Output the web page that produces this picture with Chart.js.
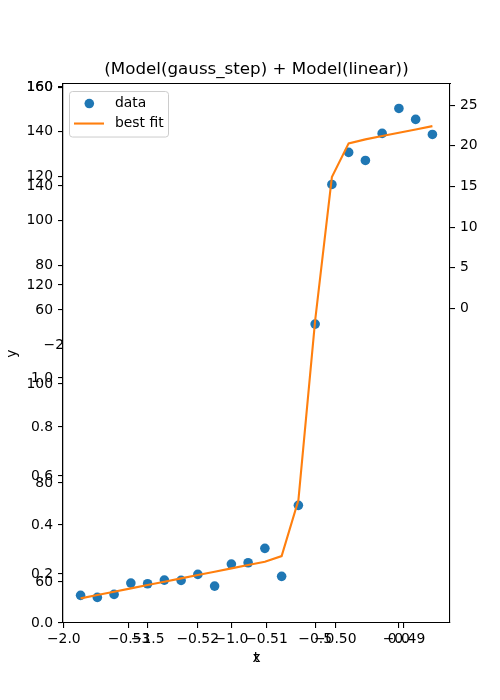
<!DOCTYPE html>
<html>
<head>
<meta charset="utf-8">
<script src="https://cdn.jsdelivr.net/npm/chart.js@4.4.1/dist/chart.umd.min.js"></script>
<style>
  html, body { margin: 0; padding: 0; background: #fff; }
  canvas { display: block; }
</style>
</head>
<body>
<canvas id="fitChart" width="500" height="700"></canvas>
<script>
// -------- DATA --------
const xValues = [-1.9, -1.8, -1.7, -1.6, -1.5, -1.4, -1.3, -1.2, -1.1, -1.0, -0.9,
                 -0.8, -0.7, -0.6, -0.5, -0.4, -0.3, -0.2, -0.1, 0.0, 0.1, 0.2];
const dataValues = [-35.30, -35.55, -35.18, -33.79, -33.87, -33.42, -33.46, -32.72, -34.16, -31.45, -31.29,
                    -29.52, -32.96, -24.23, -1.93, 15.25, 19.19, 18.20, 21.53, 24.60, 23.25, 21.40];
const fitValues = [-35.67, -35.26, -34.85, -34.44, -34.03, -33.62, -33.21, -32.80, -32.39, -31.98, -31.57,
                   -31.16, -30.47, -23.60, -1.50, 16.15, 20.30, 20.79, 21.20, 21.61, 22.01, 22.42];

// tick labels of the (overlapping) axes
const xTicks = [-2.0, -1.5, -1.0, -0.5, 0.0];
const xTicks2 = [-0.53, -0.52, -0.51, -0.50, -0.49];
const yTicksRight = [0, 5, 10, 15, 20, 25];
const yTicksUnit = [0.0, 0.2, 0.4, 0.6, 0.8, 1.0];
const yTicksB = [60, 80, 100, 120, 140, 160];
const yTicksC = [60, 80, 100, 120, 140, 160];
const yTicksCut = [-20];

// -------- HELPERS --------
const FONT = "DejaVu Sans";
const tickFont = { family: FONT, size: 13.9 };

function fmt(v, d) {
  const s = Math.abs(v).toFixed(d);
  return (v < 0 ? "\u2212" : "") + s;
}

function setTicks(list) {
  return (scale) => { scale.ticks = list.map((v) => ({ value: v })); };
}

function noPad(scale) {
  scale.paddingTop = 0;
  scale.paddingBottom = 0;
  scale.paddingLeft = 0;
  scale.paddingRight = 0;
}
function fixWidth(w) {
  return (scale) => { scale.width = w; noPad(scale); };
}
function fixHeight(h) {
  return (scale) => { scale.height = h; noPad(scale); };
}

const tickGrid = { display: true, drawOnChartArea: false, drawTicks: true, tickLength: 5, color: "#000", lineWidth: 1.1 };
const spine = { display: true, color: "#000", width: 1.1 };

// the extra left axes take no room in the layout; widen their boxes
// afterwards so their labels are not clipped away
const overlapAxes = {
  id: "overlapAxes",
  afterLayout(chart) {
    ["yB", "yC", "yCut"].forEach((id) => {
      const s = chart.scales[id];
      s.left = 0;
      s.width = s.right;
    });
  }
};

// matplotlib style legend box inside the axes
const boxLegend = {
  id: "boxLegend",
  afterDraw(chart) {
    const { ctx, chartArea } = chart;
    const x0 = chartArea.left + 6.5, y0 = chartArea.top + 7.5, w = 99, h = 45.5, r = 3;
    ctx.save();
    ctx.beginPath();
    ctx.moveTo(x0 + r, y0);
    ctx.arcTo(x0 + w, y0, x0 + w, y0 + h, r);
    ctx.arcTo(x0 + w, y0 + h, x0, y0 + h, r);
    ctx.arcTo(x0, y0 + h, x0, y0, r);
    ctx.arcTo(x0, y0, x0 + w, y0, r);
    ctx.closePath();
    ctx.fillStyle = "rgba(255,255,255,0.8)";
    ctx.fill();
    ctx.strokeStyle = "#cccccc";
    ctx.lineWidth = 1;
    ctx.stroke();

    ctx.font = '13.9px "' + FONT + '"';
    ctx.textBaseline = "middle";
    chart.data.datasets.forEach((ds, i) => {
      const cy = y0 + 12 + i * 20;
      if (ds.showLine) {
        ctx.beginPath();
        ctx.moveTo(x0 + 4.5, cy);
        ctx.lineTo(x0 + 34.5, cy);
        ctx.strokeStyle = ds.borderColor;
        ctx.lineWidth = ds.borderWidth;
        ctx.stroke();
      } else {
        ctx.beginPath();
        ctx.arc(x0 + 19.8, cy, ds.pointRadius, 0, Math.PI * 2);
        ctx.fillStyle = ds.pointBackgroundColor;
        ctx.fill();
      }
      ctx.fillStyle = "#000";
      ctx.fillText(ds.label, x0 + 45.5, cy);
    });
    ctx.restore();
  }
};

// -------- CHART --------
Chart.defaults.color = "#000";
Chart.defaults.font.family = FONT;

const ctx = document.getElementById("fitChart").getContext("2d");
const chart = new Chart(ctx, {
  type: "scatter",
  data: {
    datasets: [
      {
        label: "data",
        data: xValues.map((x, i) => ({ x, y: dataValues[i] })),
        showLine: false,
        pointRadius: 4.8,
        pointBorderWidth: 0,
        pointBackgroundColor: "#1f77b4",
        pointBorderColor: "#1f77b4",
        xAxisID: "x",
        yAxisID: "y",
        order: 1
      },
      {
        label: "best fit",
        data: xValues.map((x, i) => ({ x, y: fitValues[i] })),
        showLine: true,
        borderColor: "#ff7f0e",
        borderWidth: 2.1,
        pointRadius: 0,
        tension: 0,
        fill: false,
        xAxisID: "x",
        yAxisID: "y",
        order: 0
      }
    ]
  },
  options: {
    responsive: false,
    animation: false,
    layout: { padding: { top: 58, left: 0, right: 0, bottom: 27 } },
    plugins: {
      legend: { display: false },
      tooltip: { enabled: false },
      title: {
        display: true,
        text: "(Model(gauss_step) + Model(linear))",
        color: "#000",
        fullSize: false,
        font: { family: FONT, size: 16.7, weight: "normal", lineHeight: 1.2 },
        padding: { top: 2, bottom: 4 }
      }
    },
    scales: {
      x: {
        type: "linear", axis: "x", position: "bottom", weight: 1,
        min: -2.005, max: 0.305,
        afterBuildTicks: setTicks(xTicks),
        afterFit: fixHeight(50),
        ticks: { font: tickFont, padding: 3, autoSkip: false, maxRotation: 0, callback: (v) => fmt(v, 1) },
        grid: tickGrid,
        border: spine,
        title: { display: true, text: "x", font: tickFont, padding: { top: 0, bottom: 6.7 } }
      },
      x2: {
        type: "linear", axis: "x", position: { y: -38.7 },
        min: -0.5396, max: -0.4833,
        afterBuildTicks: setTicks(xTicks2),
        afterFit: fixHeight(50),
        ticks: { font: tickFont, padding: 3, autoSkip: false, maxRotation: 0, callback: (v) => fmt(v, 2) },
        grid: tickGrid,
        border: spine,
        title: { display: true, text: "t", font: tickFont, padding: { top: 0, bottom: 6.7 } }
      },
      xTop: {
        type: "linear", axis: "x", position: { y: 27.6 },
        min: -2.005, max: 0.305,
        afterFit: fixHeight(0),
        ticks: { display: false },
        grid: { display: false },
        border: spine
      },
      y: {
        type: "linear", axis: "y", position: "right",
        min: -38.7, max: 27.6,
        afterBuildTicks: setTicks(yTicksRight),
        afterFit: fixWidth(50),
        ticks: { font: tickFont, padding: 5, autoSkip: false, callback: (v) => fmt(v, 0) },
        grid: tickGrid,
        border: spine
      },
      yUnit: {
        type: "linear", axis: "y", position: "left", weight: 1,
        min: 0, max: 2.2,
        afterBuildTicks: setTicks(yTicksUnit),
        afterFit: fixWidth(63),
        ticks: { font: tickFont, padding: 5, autoSkip: false, callback: (v) => fmt(v, 1) },
        grid: tickGrid,
        border: spine,
        title: { display: true, text: "y", font: tickFont, padding: { top: 3.7, bottom: 0 } }
      },
      yB: {
        type: "linear", axis: "y", position: "left", weight: 0,
        min: 51.72, max: 160.6,
        afterBuildTicks: setTicks(yTicksB),
        afterFit: fixWidth(0),
        ticks: { font: tickFont, padding: 5, autoSkip: false, callback: (v) => fmt(v, 0) },
        grid: tickGrid,
        border: spine
      },
      yC: {
        type: "linear", axis: "y", position: "left", weight: 0,
        min: -80.36, max: 161.35,
        afterBuildTicks: setTicks(yTicksC),
        afterFit: fixWidth(0),
        ticks: { font: tickFont, padding: 5, autoSkip: false, callback: (v) => fmt(v, 0) },
        grid: tickGrid,
        border: spine
      },
      yCut: {
        type: "linear", axis: "y", position: "left", weight: 0,
        min: -50, max: 8.2,
        afterBuildTicks: setTicks(yTicksCut),
        afterFit: fixWidth(0),
        // only the first part of this label shows in the original
        ticks: { font: tickFont, padding: -1, autoSkip: false, callback: (v) => fmt(v, 0).slice(0, 2) },
        grid: { display: false, drawTicks: false },
        border: { display: false }
      }
    }
  },
  plugins: [overlapAxes, boxLegend]
});
</script>
</body>
</html>
